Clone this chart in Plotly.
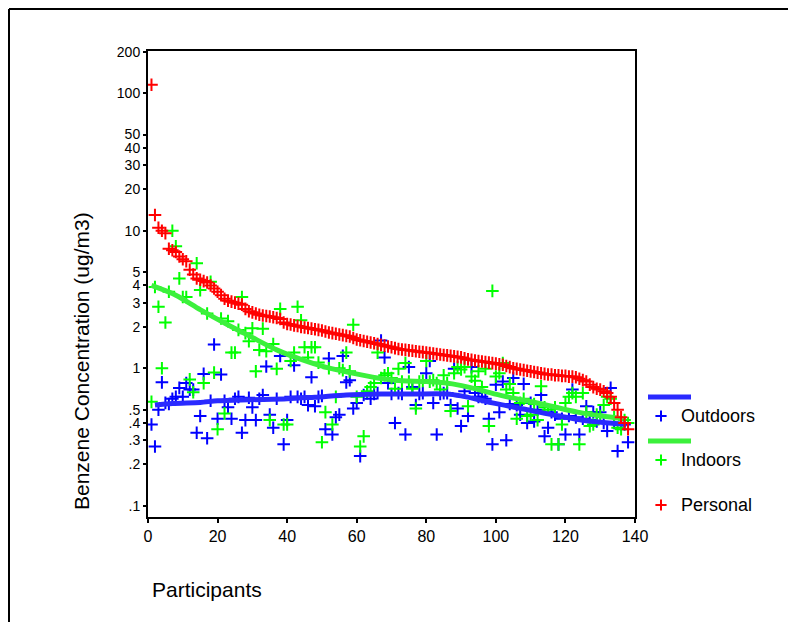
import plotly.graph_objects as go

W, H = 788, 622

participants = list(range(1, 139))

personal = [115, 13, 10.5, 10, 9.6, 7.4, 7.2, 7.0, 6.5, 6.2,
            6.0, 5.2, 4.8, 4.5, 4.4, 4.3, 4.2, 4.0, 3.8, 3.6,
            3.4, 3.2, 3.1, 3.05, 3.0, 2.95, 2.9, 2.7, 2.6, 2.55,
            2.5, 2.45, 2.42, 2.4, 2.38, 2.35, 2.32, 2.28, 2.15, 2.1,
            2.08, 2.05, 2.03, 2.0, 1.98, 1.96, 1.94, 1.92, 1.9, 1.88,
            1.85, 1.82, 1.8, 1.78, 1.76, 1.74, 1.72, 1.7, 1.66, 1.62,
            1.6, 1.58, 1.56, 1.54, 1.52, 1.5, 1.48, 1.46, 1.44, 1.42,
            1.4, 1.38, 1.37, 1.36, 1.35, 1.34, 1.33, 1.32, 1.31, 1.3,
            1.29, 1.28, 1.27, 1.26, 1.25, 1.24, 1.23, 1.22, 1.21, 1.2,
            1.18, 1.16, 1.15, 1.14, 1.13, 1.12, 1.11, 1.1, 1.09, 1.08,
            1.07, 1.06, 1.04, 1.02, 1.0, 0.99, 0.98, 0.97, 0.96, 0.95,
            0.94, 0.93, 0.92, 0.91, 0.9, 0.9, 0.89, 0.89, 0.88, 0.88,
            0.87, 0.87, 0.86, 0.84, 0.82, 0.8, 0.76, 0.73, 0.71, 0.7,
            0.68, 0.66, 0.62, 0.56, 0.5, 0.44, 0.40, 0.36]

outdoors = [0.39, 0.27, 0.50, 0.79, 0.56, 0.55, 0.60, 0.62, 0.72, 0.62,
            0.78, 0.70, 0.70, 0.34, 0.45, 0.91, 0.31, 0.58, 1.49, 0.43,
            0.90, 0.58, 0.52, 0.43, 0.60, 0.62, 0.34, 0.42, 0.61, 0.52,
            0.42, 0.60, 0.64, 1.03, 0.46, 0.37, 0.60, 1.23, 0.28, 0.42,
            0.62, 1.05, 0.62, 0.60, 0.62, 0.54, 0.86, 0.53, 0.62, 0.63,
            0.36, 1.18, 0.33, 0.44, 0.46, 1.23, 0.79, 0.82, 0.51, 0.56,
            0.23, 0.64, 0.66, 0.60, 0.65, 0.66, 1.59, 1.20, 0.78, 0.65,
            0.40, 0.66, 0.65, 0.33, 1.02, 0.73, 0.54, 0.65, 0.66, 0.92,
            1.13, 0.56, 0.33, 0.65, 0.66, 0.66, 0.54, 0.99, 0.51, 0.38,
            0.68, 0.45, 1.02, 0.66, 0.62, 0.62, 0.60, 0.43, 0.28, 0.76,
            0.48, 0.80, 0.30, 0.55, 0.85, 0.54, 0.46, 0.77, 0.40, 0.56,
            0.41, 0.50, 0.64, 0.32, 0.37, 0.48, 0.46, 0.28, 0.43, 0.33,
            0.45, 0.70, 0.44, 0.33, 0.43, 0.53, 0.42, 0.48, 0.41, 0.48,
            0.40, 0.35, 0.72, 0.40, 0.25, 0.39, 0.39, 0.29]

indoors = [0.57, 3.9, 2.8, 1.0, 2.15, 3.6, 10.0, 7.7, 4.5, 3.3,
           3.3, 0.83, 0.67, 5.8, 3.7, 0.78, 2.5, 4.25, 0.93, 0.36,
           2.3, 0.47, 2.2, 1.3, 1.3, 1.9, 3.3, 1.8, 1.57, 1.95,
           0.95, 1.36, 1.94, 1.33, 0.42, 1.5, 0.99, 2.7, 0.39, 0.39,
           1.13, 1.3, 2.8, 2.23, 1.42, 1.2, 1.42, 1.42, 1.1, 0.29,
           0.48, 1.0, 0.39, 0.62, 1.0, 0.97, 1.3, 0.95, 2.07, 0.62,
           0.27, 0.32, 0.68, 0.73, 0.78, 1.3, 0.85, 0.89, 0.92, 0.85,
           0.71, 0.99, 0.80, 1.09, 0.80, 0.71, 0.51, 0.80, 0.81, 1.13,
           0.80, 0.82, 0.78, 0.70, 0.89, 0.78, 0.49, 0.92, 1.02, 0.98,
           1.02, 0.53, 0.87, 0.81, 0.95, 0.73, 0.99, 0.38, 3.65, 0.87,
           0.92, 1.09, 0.70, 0.77, 0.66, 0.43, 0.56, 0.60, 0.45, 0.46,
           0.55, 0.42, 0.74, 0.52, 0.50, 0.28, 0.52, 0.28, 0.39, 0.56,
           0.62, 0.66, 0.62, 0.28, 0.66, 0.48, 0.38, 0.39, 0.46, 0.45,
           0.54, 0.62, 0.60, 0.44, 0.37, 0.36, 0.42, 0.40]

# smoothed (fit) lines
fit_out_x = [2, 7, 15, 20, 29, 40, 44, 48, 57, 67, 76, 86, 90, 94, 99, 109, 118, 128, 137.5]
fit_out_y = [0.54, 0.555, 0.565, 0.58, 0.59, 0.60, 0.61, 0.615, 0.64, 0.65, 0.65, 0.65,
             0.63, 0.60, 0.56, 0.50, 0.45, 0.41, 0.39]
fit_in_x = [1, 8, 15, 22.5, 29.5, 37, 44, 51, 58, 66, 73, 80, 87.5, 95, 102, 109, 116, 123.5, 130.5, 136.5]
fit_in_y = [4.0, 3.4, 2.67, 2.1, 1.7, 1.36, 1.16, 1.02, 0.93, 0.85, 0.81, 0.80, 0.77, 0.70,
            0.63, 0.58, 0.53, 0.48, 0.45, 0.43]

y_tickvals = [0.1, 0.2, 0.3, 0.4, 0.5, 1, 2, 3, 4, 5, 10, 20, 30, 40, 50, 100, 200]
y_ticktext = ['.1', '.2', '.3', '.4', '.5', '1', '2', '3', '4', '5', '10', '20', '30',
              '40', '50', '100', '200']
x_tickvals = [0, 20, 40, 60, 80, 100, 120, 140]

legend_names = ['Outdoors', 'Indoors', 'Personal']

BLUE = '#0000ff'
GREEN = '#00ff00'
RED = '#ff0000'
BLUE_LINE = '#2a2aff'
GREEN_LINE = '#3cf03c'
FONT = 'Liberation Sans, Arial, sans-serif'

fig = go.Figure()

mk = dict(symbol='cross-thin', size=9, line=dict(width=2))

fig.add_trace(go.Scatter(x=participants, y=outdoors, mode='markers',
                         marker=dict(mk, color=BLUE, line=dict(width=2, color=BLUE)),
                         showlegend=False))
fig.add_trace(go.Scatter(x=participants, y=indoors, mode='markers',
                         marker=dict(mk, color=GREEN, line=dict(width=2, color=GREEN)),
                         showlegend=False))
fig.add_trace(go.Scatter(x=fit_out_x, y=fit_out_y, mode='lines',
                         line=dict(color=BLUE_LINE, width=5, shape='spline', smoothing=0.8),
                         showlegend=False))
fig.add_trace(go.Scatter(x=fit_in_x, y=fit_in_y, mode='lines',
                         line=dict(color=GREEN_LINE, width=5, shape='spline', smoothing=0.8),
                         showlegend=False))
fig.add_trace(go.Scatter(x=participants, y=personal, mode='markers',
                         marker=dict(mk, color=RED, line=dict(width=2, color=RED)),
                         showlegend=False))

# legend drawn on an overlay pixel-space axis
fig.add_trace(go.Scatter(x=[648, 691], y=[397, 397], mode='lines', xaxis='x2', yaxis='y2',
                         line=dict(color=BLUE_LINE, width=5), showlegend=False, hoverinfo='skip'))
fig.add_trace(go.Scatter(x=[648, 691], y=[441, 441], mode='lines', xaxis='x2', yaxis='y2',
                         line=dict(color=GREEN_LINE, width=5), showlegend=False, hoverinfo='skip'))
fig.add_trace(go.Scatter(x=[661, 661, 661], y=[416, 460, 505], mode='markers', xaxis='x2', yaxis='y2',
                         marker=dict(symbol='cross-thin', size=8,
                                     color=[BLUE, GREEN, RED],
                                     line=dict(width=2, color=[BLUE, GREEN, RED])),
                         showlegend=False, hoverinfo='skip'))

annotations = []
for name, yy in zip(legend_names, [416, 460, 505]):
    annotations.append(dict(text=name, x=679 / W, y=1 - yy / H, xref='paper', yref='paper',
                            xanchor='left', yanchor='middle', showarrow=False,
                            font=dict(size=18, color='black', family=FONT)))
annotations.append(dict(text='Benzene Concentration (ug/m3)', x=81 / W, y=1 - 361 / H,
                        xref='paper', yref='paper', textangle=-90, showarrow=False,
                        xanchor='center', yanchor='middle',
                        font=dict(size=21, color='black', family=FONT)))
annotations.append(dict(text='Participants', x=150 / W, y=1 - 589 / H,
                        xref='paper', yref='paper', showarrow=False,
                        xanchor='left', yanchor='middle',
                        font=dict(size=21, color='black', family=FONT)))

frame = dict(color='black', width=2)
fig.update_layout(
    width=W, height=H,
    margin=dict(l=0, r=0, t=0, b=0),
    paper_bgcolor='white',
    plot_bgcolor='rgba(0,0,0,0)',
    font=dict(family=FONT, color='black', size=16),
    xaxis=dict(domain=[148 / W, 635 / W], range=[0, 140], tickvals=x_tickvals,
               ticks='outside', ticklen=4, tickwidth=2, tickcolor='black',
               showline=True, linecolor='black', linewidth=2, mirror=True,
               showgrid=False, zeroline=False, automargin=False,
               tickfont=dict(size=16)),
    yaxis=dict(domain=[1 - 517 / H, 1 - 51 / H], type='log', range=[-1.081, 2.306],
               tickvals=y_tickvals, ticktext=y_ticktext,
               ticks='outside', ticklen=3, tickwidth=2, tickcolor='black',
               showline=True, linecolor='black', linewidth=2, mirror=True,
               showgrid=False, zeroline=False, automargin=False,
               tickfont=dict(size=14)),
    xaxis2=dict(domain=[0, 1], range=[0, W], visible=False, anchor='y2', fixedrange=True),
    yaxis2=dict(domain=[0, 1], range=[H, 0], visible=False, anchor='x2', fixedrange=True),
    annotations=annotations,
    shapes=[
        dict(type='line', xref='paper', yref='paper', x0=9 / W, x1=1.0,
             y0=1 - 9 / H, y1=1 - 9 / H, line=frame, layer='below'),
        dict(type='line', xref='paper', yref='paper', x0=9 / W, x1=9 / W,
             y0=0.0, y1=1 - 9 / H, line=frame, layer='below'),
    ],
    showlegend=False,
)

fig.write_html("out.html")
